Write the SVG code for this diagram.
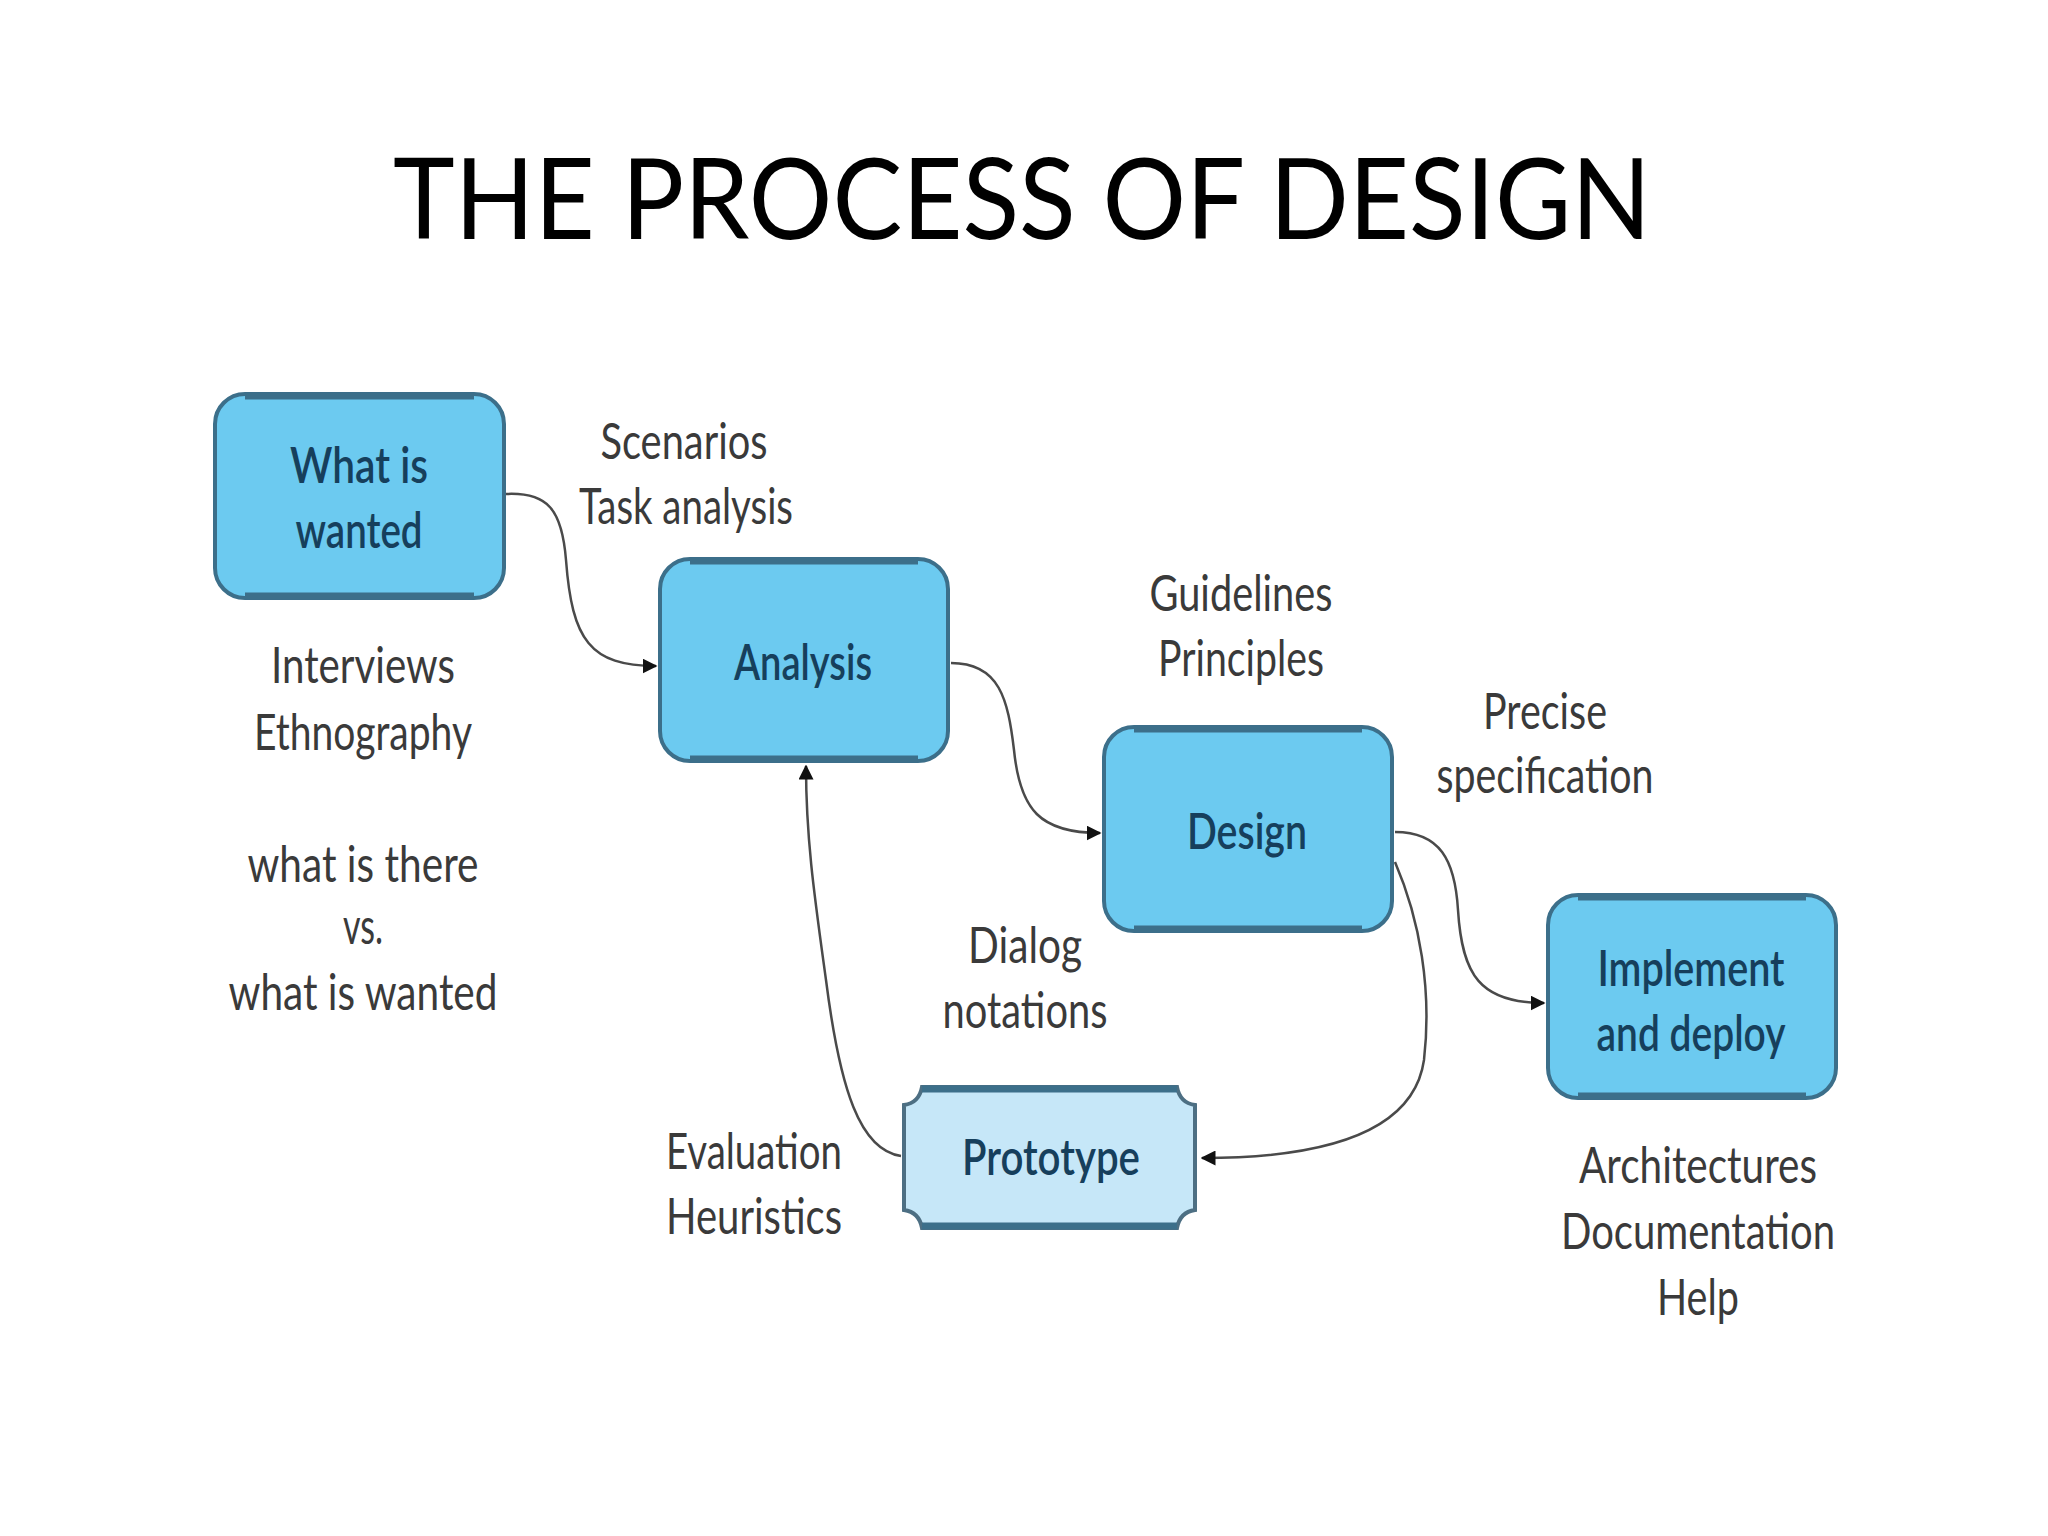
<svg xmlns="http://www.w3.org/2000/svg" width="2048" height="1536" viewBox="0 0 2048 1536">
<defs>
<style>
.title{font-family:Lato,"Open Sans","Liberation Sans",sans-serif;font-size:112px;fill:#000;text-anchor:middle}
.box{fill:#6ccaf0;stroke:#3c6f8a;stroke-width:4}
.proto{fill:#c6e7f8;stroke:#4d6f83;stroke-width:4}
.edge{stroke:#3c6f8a;stroke-width:7;stroke-linecap:butt}
.nt{font-family:Lato,"Open Sans","Liberation Sans",sans-serif;font-size:50px;font-weight:600;fill:#163f5c;text-anchor:middle}
.lb{font-family:Lato,"Open Sans","Liberation Sans",sans-serif;font-size:50px;fill:#3a3a3a;text-anchor:middle}
.conn{fill:none;stroke:#4a4a4a;stroke-width:2.5}
</style>
<marker id="arr" viewBox="0 0 10 10" refX="9" refY="5" markerWidth="6" markerHeight="6" orient="auto" markerUnits="strokeWidth">
<path d="M0,0 L10,5 L0,10 Z" fill="#111"/>
</marker>
</defs>
<rect width="2048" height="1536" fill="#fff"/>
<text class="title" x="1022" y="239" textLength="1258" lengthAdjust="spacingAndGlyphs">THE PROCESS OF DESIGN</text>

<g id="connectors">
<path class="conn" d="M506,494 C548,492 562,510 566,560 C572,640 590,666 656,666" marker-end="url(#arr)"/>
<path class="conn" d="M951,663 C1000,663 1008,700 1014,750 C1020,810 1040,833 1100,833" marker-end="url(#arr)"/>
<path class="conn" d="M1395,832 C1440,832 1455,860 1458,910 C1462,975 1480,1003 1544,1003" marker-end="url(#arr)"/>
<path class="conn" d="M1395,862 C1420,920 1432,990 1424,1060 C1414,1130 1330,1158 1202,1158" marker-end="url(#arr)"/>
<path class="conn" d="M901,1156 C860,1150 840,1090 826,980 C815,900 806,840 806,766" marker-end="url(#arr)"/>
</g>

<g id="node-wanted">
<rect class="box" x="215" y="394" width="289" height="204" rx="30"/>
<line class="edge" x1="245" y1="396" x2="474" y2="396"/>
<line class="edge" x1="245" y1="596" x2="474" y2="596"/>
<text class="nt" x="359" y="483" textLength="138" lengthAdjust="spacingAndGlyphs">What is</text>
<text class="nt" x="359" y="548" textLength="127" lengthAdjust="spacingAndGlyphs">wanted</text>
</g>

<g id="node-analysis">
<rect class="box" x="660" y="559" width="288" height="202" rx="30"/>
<line class="edge" x1="690" y1="561" x2="918" y2="561"/>
<line class="edge" x1="690" y1="759" x2="918" y2="759"/>
<text class="nt" x="803" y="680" textLength="138" lengthAdjust="spacingAndGlyphs">Analysis</text>
</g>

<g id="node-design">
<rect class="box" x="1104" y="727" width="288" height="204" rx="30"/>
<line class="edge" x1="1134" y1="729" x2="1362" y2="729"/>
<line class="edge" x1="1134" y1="929" x2="1362" y2="929"/>
<text class="nt" x="1247" y="849" textLength="120" lengthAdjust="spacingAndGlyphs">Design</text>
</g>

<g id="node-implement">
<rect class="box" x="1548" y="895" width="288" height="203" rx="30"/>
<line class="edge" x1="1578" y1="897" x2="1806" y2="897"/>
<line class="edge" x1="1578" y1="1096" x2="1806" y2="1096"/>
<text class="nt" x="1691" y="986" textLength="187" lengthAdjust="spacingAndGlyphs">Implement</text>
<text class="nt" x="1691" y="1051" textLength="189" lengthAdjust="spacingAndGlyphs">and deploy</text>
</g>

<g id="node-prototype">
<path class="proto" d="M922,1087 L1177,1087 Q1180,1103 1195,1105 L1195,1210 Q1180,1212 1177,1228 L922,1228 Q919,1212 904,1210 L904,1105 Q919,1103 922,1087 Z"/>
<line class="edge" x1="922" y1="1089" x2="1177" y2="1089" stroke-width="5"/>
<line class="edge" x1="922" y1="1226" x2="1177" y2="1226" stroke-width="5"/>
<text class="nt" x="1051" y="1175" textLength="178" lengthAdjust="spacingAndGlyphs">Prototype</text>
</g>

<g id="labels">
<text class="lb" x="684" y="459" textLength="167" lengthAdjust="spacingAndGlyphs">Scenarios</text>
<text class="lb" x="686" y="524" textLength="214" lengthAdjust="spacingAndGlyphs">Task analysis</text>
<text class="lb" x="363" y="683" textLength="184" lengthAdjust="spacingAndGlyphs">Interviews</text>
<text class="lb" x="363" y="750" textLength="218" lengthAdjust="spacingAndGlyphs">Ethnography</text>
<text class="lb" x="363" y="882" textLength="231" lengthAdjust="spacingAndGlyphs">what is there</text>
<text class="lb" x="363" y="944" textLength="40" lengthAdjust="spacingAndGlyphs">vs.</text>
<text class="lb" x="363" y="1010" textLength="269" lengthAdjust="spacingAndGlyphs">what is wanted</text>
<text class="lb" x="1241" y="611" textLength="183" lengthAdjust="spacingAndGlyphs">Guidelines</text>
<text class="lb" x="1241" y="676" textLength="166" lengthAdjust="spacingAndGlyphs">Principles</text>
<text class="lb" x="1545" y="729" textLength="124" lengthAdjust="spacingAndGlyphs">Precise</text>
<text class="lb" x="1545" y="793" textLength="217" lengthAdjust="spacingAndGlyphs">specification</text>
<text class="lb" x="1025" y="963" textLength="114" lengthAdjust="spacingAndGlyphs">Dialog</text>
<text class="lb" x="1025" y="1028" textLength="165" lengthAdjust="spacingAndGlyphs">notations</text>
<text class="lb" x="754" y="1169" textLength="176" lengthAdjust="spacingAndGlyphs">Evaluation</text>
<text class="lb" x="754" y="1234" textLength="176" lengthAdjust="spacingAndGlyphs">Heuristics</text>
<text class="lb" x="1698" y="1183" textLength="238" lengthAdjust="spacingAndGlyphs">Architectures</text>
<text class="lb" x="1698" y="1249" textLength="274" lengthAdjust="spacingAndGlyphs">Documentation</text>
<text class="lb" x="1698" y="1315" textLength="82" lengthAdjust="spacingAndGlyphs">Help</text>
</g>
</svg>
